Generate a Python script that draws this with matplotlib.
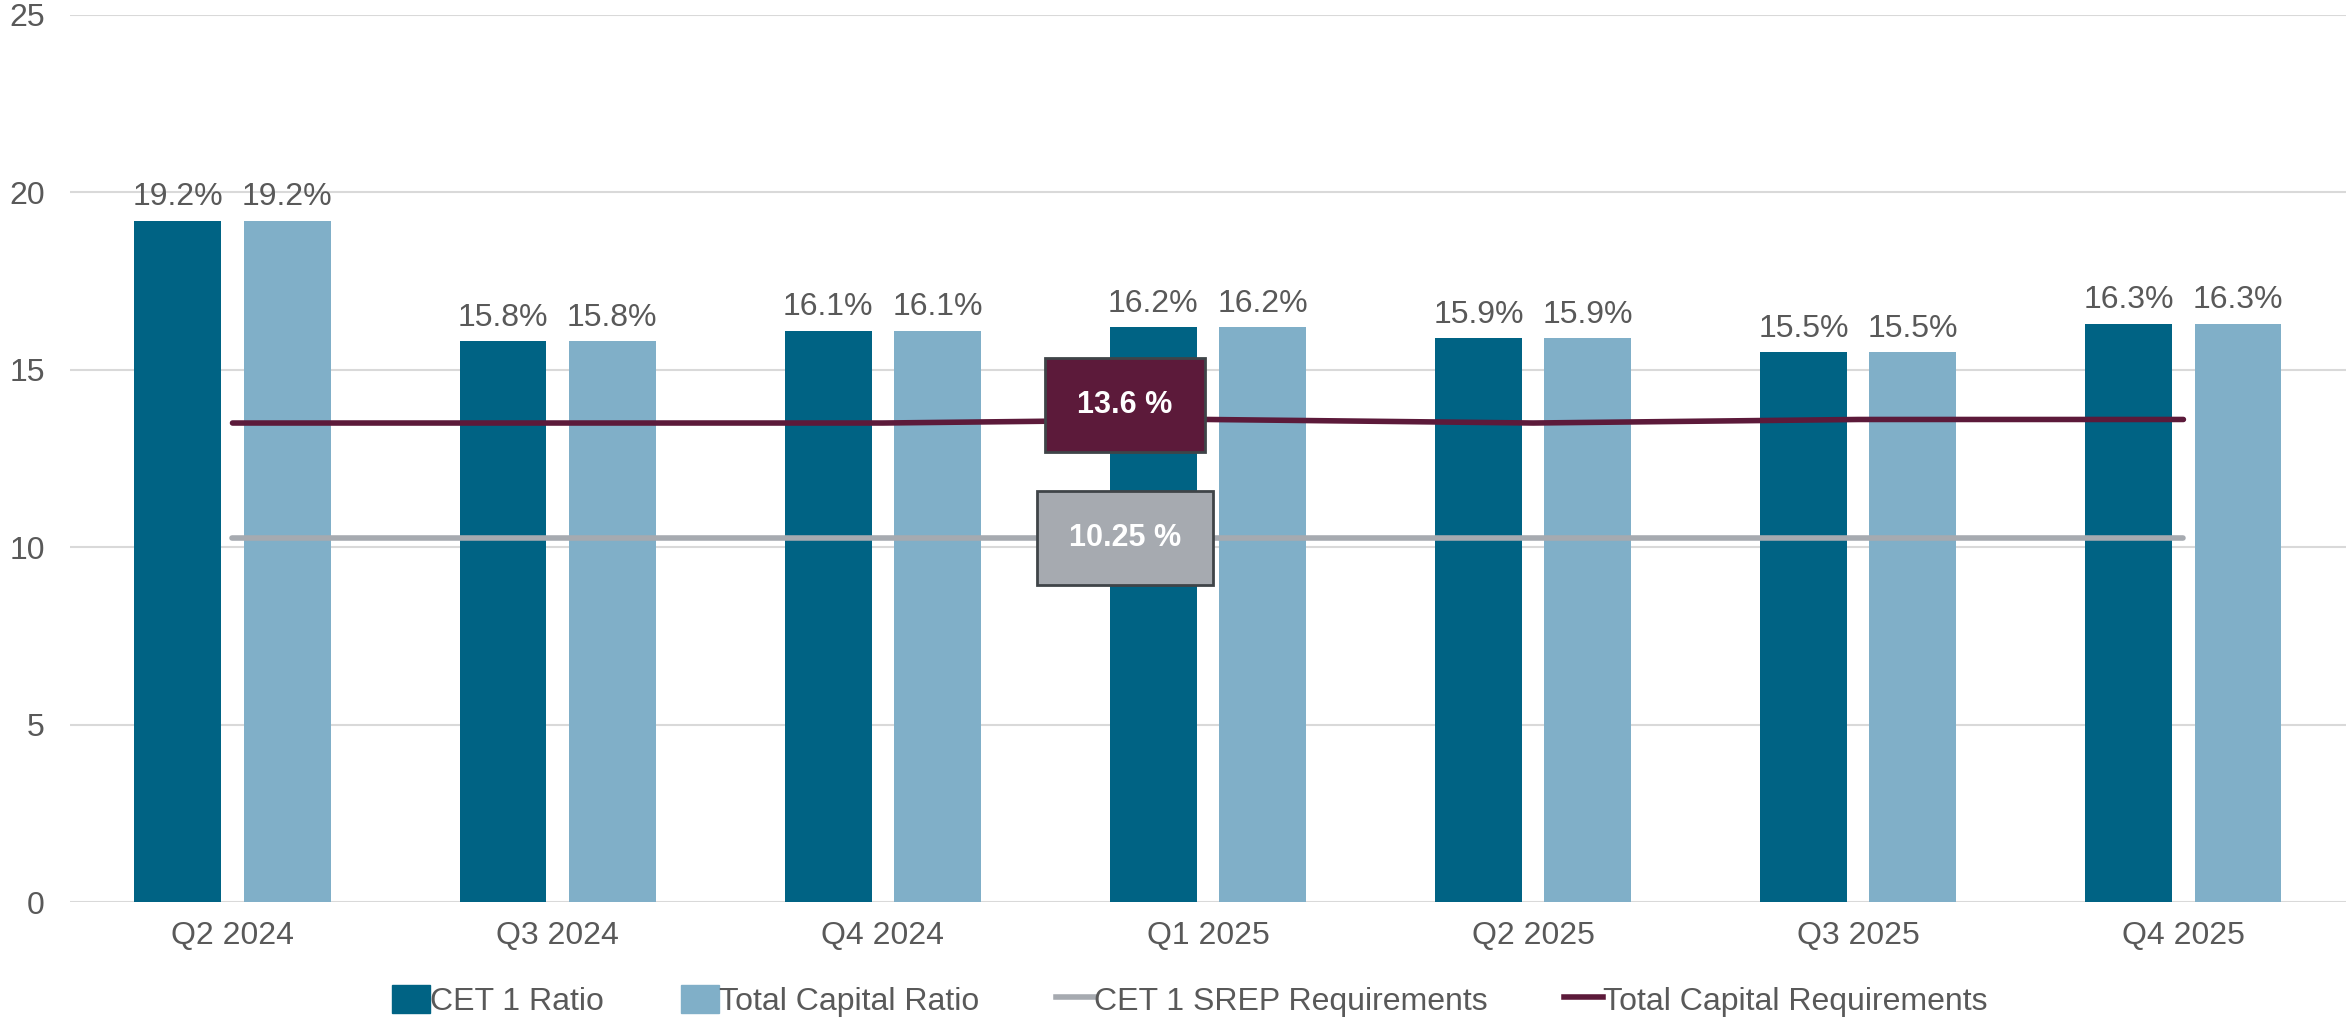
import numpy as np
import matplotlib.pyplot as plt
from matplotlib.patches import Patch
from matplotlib.lines import Line2D

plt.rcParams['font.family'] = ['Liberation Sans', 'DejaVu Sans']

# data
quarters = ["Q2 2024", "Q3 2024", "Q4 2024", "Q1 2025", "Q2 2025", "Q3 2025", "Q4 2025"]
cet1_ratio = [19.2, 15.8, 16.1, 16.2, 15.9, 15.5, 16.3]
total_capital_ratio = [19.2, 15.8, 16.1, 16.2, 15.9, 15.5, 16.3]
cet1_srep = [10.25, 10.25, 10.25, 10.25, 10.25, 10.25, 10.25]
total_capital_req = [13.5, 13.5, 13.5, 13.6, 13.5, 13.6, 13.6]

dark_blue = "#006384"
light_blue = "#80AFC8"
maroon = "#5C1A3A"
grey = "#A6AAB0"
text_col = "#595959"

fig = plt.figure(figsize=(23.46, 10.19), dpi=100)
ax = fig.add_axes([0.0298, 0.1148, 0.9702, 0.8705])

x = np.arange(len(quarters))
w = 0.267
off = 0.168

b1 = ax.bar(x - off, cet1_ratio, w, color=dark_blue, zorder=2)
b2 = ax.bar(x + off, total_capital_ratio, w, color=light_blue, zorder=2)

# value labels above bars
for bars, vals in [(b1, cet1_ratio), (b2, total_capital_ratio)]:
    for rect, v in zip(bars, vals):
        ax.annotate(f"{v:.1f}%", (rect.get_x() + rect.get_width() / 2, v),
                    xytext=(0, 6), textcoords="offset points",
                    ha="center", va="bottom", fontsize=23, color=text_col)

ax.plot(x, cet1_srep, color=grey, lw=4, solid_capstyle="round", zorder=3)
ax.plot(x, total_capital_req, color=maroon, lw=4, solid_capstyle="round", zorder=3)

# boxed labels for the requirement lines
box_x = 2.745
ax.text(box_x, 14.0, "13.6 %", ha="center", va="center", fontsize=22,
        fontweight="bold", color="white", zorder=5,
        bbox=dict(boxstyle="square,pad=1.05", fc=maroon, ec="#3F4448", lw=2))
ax.text(box_x, cet1_srep[3], "10.25 %", ha="center", va="center", fontsize=22,
        fontweight="bold", color="white", zorder=5,
        bbox=dict(boxstyle="square,pad=1.05", fc=grey, ec="#3F4448", lw=2))

ax.set_xlim(-0.5, len(quarters) - 0.5)
ax.set_ylim(0, 25)
ax.set_yticks([0, 5, 10, 15, 20, 25])
ax.set_xticks(x)
ax.set_xticklabels(quarters)
ax.tick_params(axis="both", length=0, labelsize=23, colors=text_col)
ax.tick_params(axis="y", pad=18)
ax.tick_params(axis="x", pad=14)
ax.grid(axis="y", color="#D9D9D9", lw=1.5, zorder=0)
ax.set_axisbelow(True)
for s in ax.spines.values():
    s.set_visible(False)

handles = [
    Patch(color=dark_blue, label="CET 1 Ratio"),
    Patch(color=light_blue, label="Total Capital Ratio"),
    Line2D([0], [0], color=grey, lw=4, label="CET 1 SREP Requirements"),
    Line2D([0], [0], color=maroon, lw=4, label="Total Capital Requirements"),
]
leg = fig.legend(handles=handles, loc="center", bbox_to_anchor=(0.507, 0.018),
                 ncol=4, frameon=False, fontsize=23, handlelength=1.2,
                 handleheight=1.0, handletextpad=0.0, columnspacing=2.4)
for t in leg.get_texts():
    t.set_color(text_col)

fig.savefig("out.png", dpi=100)
